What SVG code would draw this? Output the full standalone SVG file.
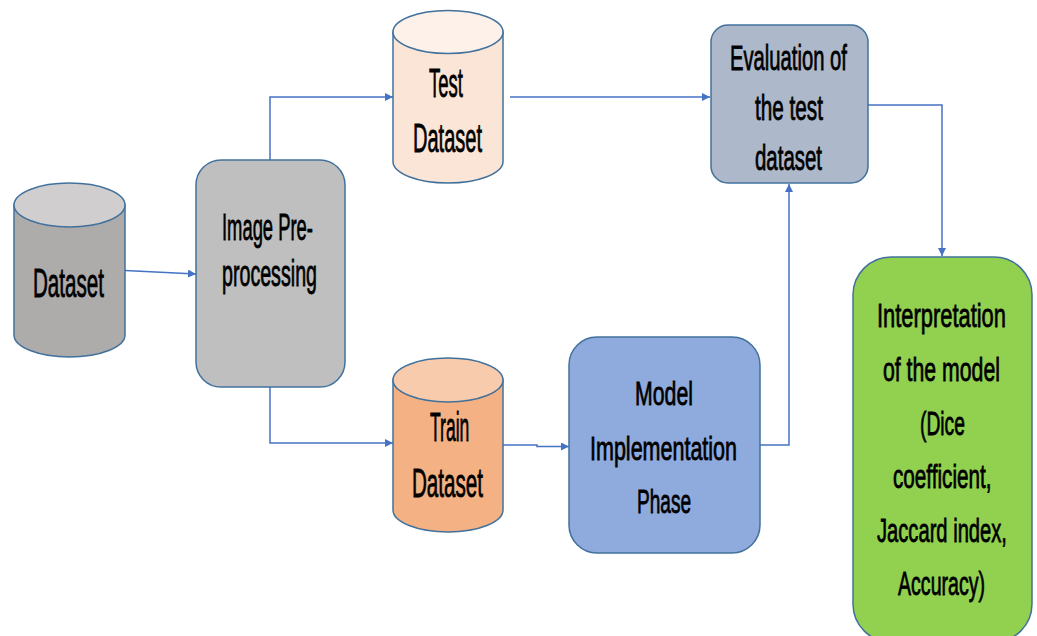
<svg xmlns="http://www.w3.org/2000/svg" width="1037" height="636" viewBox="0 0 1037 636">
<defs>
<style>
.t{font-family:"Liberation Sans",Arial,sans-serif;fill:#000;stroke:#000;stroke-width:0.8;}
.c{fill:none;stroke:#4472c4;stroke-width:1.5;marker-end:url(#ah);}
.o{stroke:#41719c;stroke-width:1.5;}
</style>
<marker id="ah" viewBox="0 0 10 10" refX="10" refY="5" markerWidth="8" markerHeight="8" markerUnits="userSpaceOnUse" orient="auto">
<path d="M0,0 L10,5 L0,10 z" fill="#4472c4"/>
</marker>
</defs>
<rect width="1037" height="636" fill="#fff"/>
<g id="connectors">
<path class="c" d="M125,270.5 L196,274"/>
<path class="c" d="M270,160 L270,97 L393,97"/>
<path class="c" d="M270,387 L270,443 L393,443"/>
<path class="c" d="M510,97 L710,97"/>
<path class="c" d="M503,445 L537,445 L537,446.5 L569,446.5"/>
<path class="c" d="M760,445 L789,445 L789,184"/>
<path class="c" d="M868,105 L942,105 L942,256"/>
</g>
<g id="dataset">
<path class="o" fill="#aeabab" d="M14,205 L14,335 A55.5,22 0 0 0 125,335 L125,205 z"/>
<ellipse class="o" cx="69.5" cy="205" rx="55.5" ry="22" fill="#d0cece"/>
<text class="t" font-size="40" transform="translate(33,297) scale(0.515,1)">Dataset</text>
</g>
<g id="preprocessing">
<rect class="o" x="196" y="160" width="149" height="227" rx="25" fill="#bfbfbf"/>
<text class="t" font-size="37" transform="translate(222,240) scale(0.497,1)">Image Pre-</text>
<text class="t" font-size="37" transform="translate(222,286) scale(0.531,1)">processing</text>
</g>
<g id="test-dataset">
<path class="o" fill="#fbe5d6" d="M393,32 L393,161.5 A55,21.5 0 0 0 503,161.5 L503,32 z"/>
<ellipse class="o" cx="448" cy="32" rx="55" ry="21.5" fill="#fdf1e9"/>
<text class="t" font-size="41" transform="translate(429,97) scale(0.452,1)">Test</text>
<text class="t" font-size="40" transform="translate(413,152) scale(0.501,1)">Dataset</text>
</g>
<g id="train-dataset">
<path class="o" fill="#f4b183" d="M393,380 L393,510 A55,22 0 0 0 503,510 L503,380 z"/>
<ellipse class="o" cx="448" cy="380" rx="55" ry="22" fill="#f8cbad"/>
<text class="t" font-size="40" transform="translate(430,441) scale(0.439,1)">Train</text>
<text class="t" font-size="40" transform="translate(412,497) scale(0.515,1)">Dataset</text>
</g>
<g id="evaluation">
<rect class="o" x="711" y="25" width="157" height="158" rx="17" fill="#adb9ca"/>
<text class="t" font-size="35" transform="translate(730,70) scale(0.578,1)">Evaluation of</text>
<text class="t" font-size="35" transform="translate(755,120) scale(0.592,1)">the test</text>
<text class="t" font-size="35" transform="translate(755,170) scale(0.584,1)">dataset</text>
</g>
<g id="model">
<rect class="o" x="569" y="337" width="191" height="216" rx="28" fill="#8faadc"/>
<text class="t" font-size="33" transform="translate(635,405) scale(0.645,1)">Model</text>
<text class="t" font-size="33" transform="translate(590,460) scale(0.652,1)">Implementation</text>
<text class="t" font-size="33" transform="translate(637,513) scale(0.577,1)">Phase</text>
</g>
<g id="interpretation">
<rect class="o" x="853" y="257" width="179" height="385" rx="38" fill="#92d050"/>
<text class="t" font-size="34" transform="translate(877,327) scale(0.644,1)">Interpretation</text>
<text class="t" font-size="34" transform="translate(883,381) scale(0.625,1)">of the model</text>
<text class="t" font-size="34" transform="translate(920,435) scale(0.567,1)">(Dice</text>
<text class="t" font-size="34" transform="translate(893,488) scale(0.609,1)">coefficient,</text>
<text class="t" font-size="34" transform="translate(877,542) scale(0.593,1)">Jaccard index,</text>
<text class="t" font-size="34" transform="translate(898,595) scale(0.576,1)">Accuracy)</text>
</g>
</svg>
